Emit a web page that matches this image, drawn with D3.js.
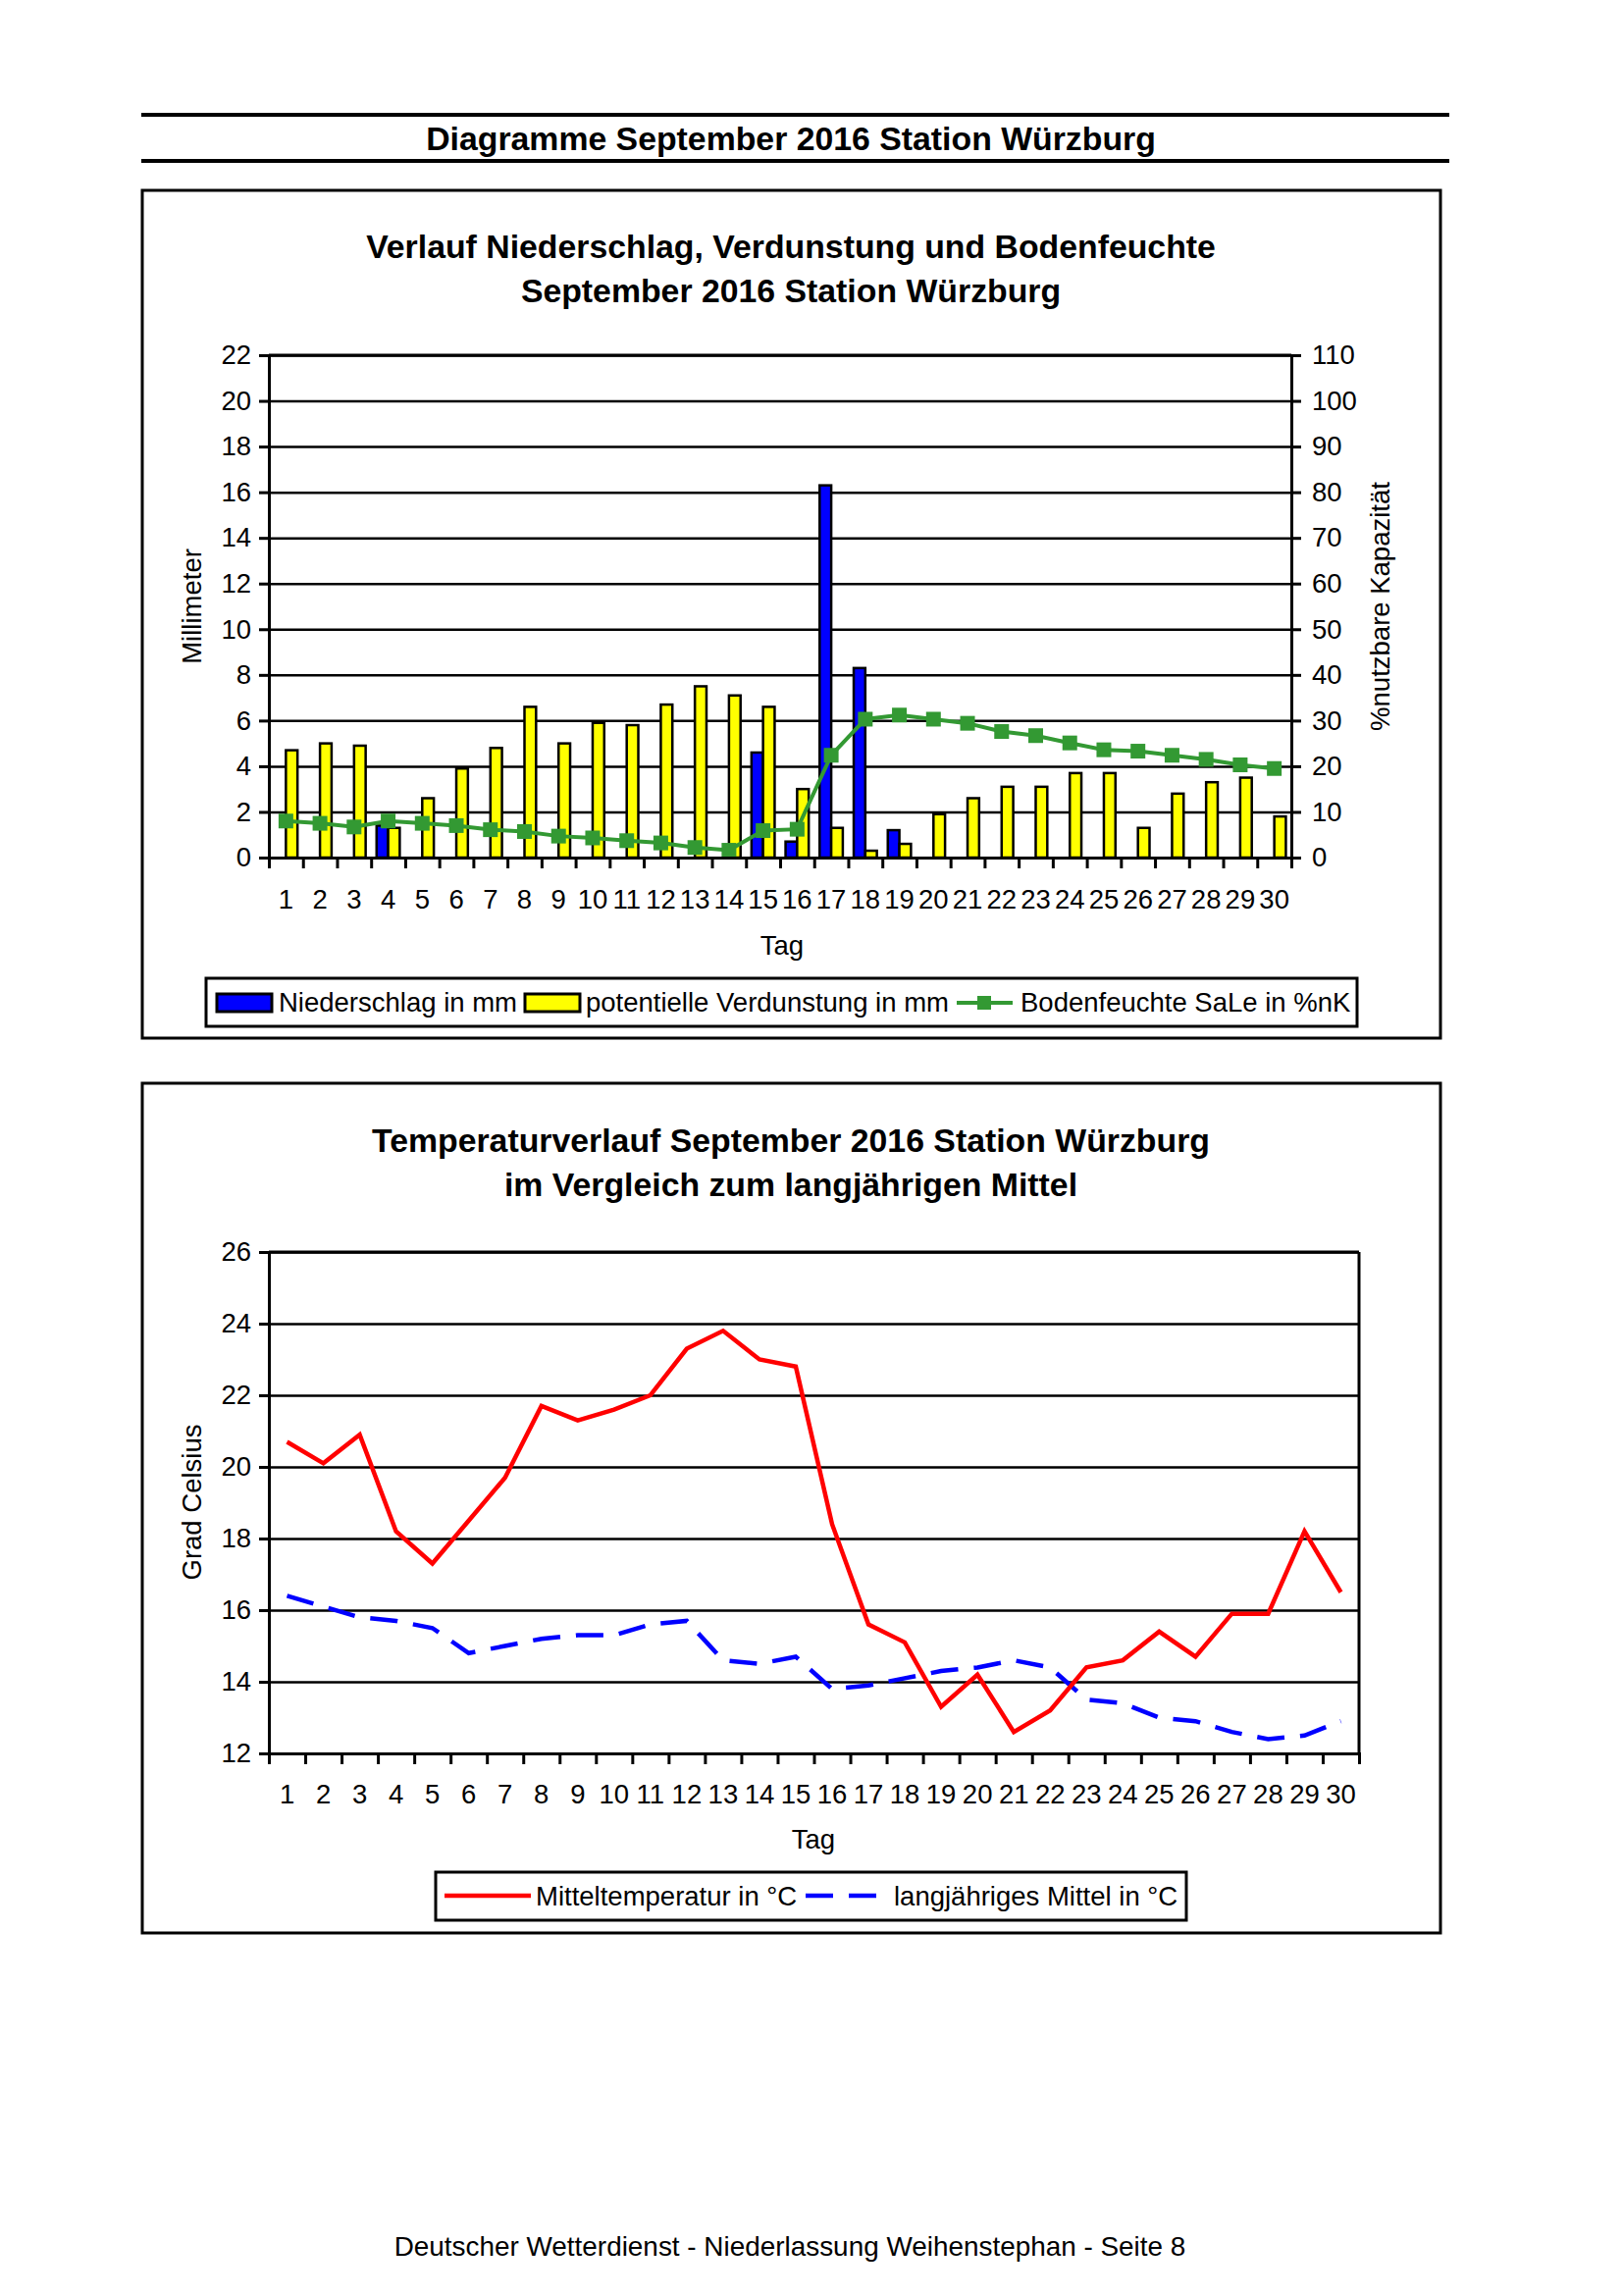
<!DOCTYPE html>
<html><head><meta charset="utf-8">
<script src="https://cdn.jsdelivr.net/npm/d3@7"></script>
<style>
body{margin:0;background:#fff;}
text{font-family:"Liberation Sans",Arial,sans-serif;fill:#000;}
</style></head>
<body>
<script>
// ---------- data ----------
const days = d3.range(1, 31);
const niederschlag = [0,0,0,1.4,0,0,0,0,0,0,0,0,0,0,4.6,0.7,16.3,8.3,1.2,0,0,0,0,0,0,0,0,0,0,0];
const verdunstung = [4.7,5.0,4.9,1.3,2.6,3.9,4.8,6.6,5.0,5.9,5.8,6.7,7.5,7.1,6.6,3.0,1.3,0.3,0.6,1.9,2.6,3.1,3.1,3.7,3.7,1.3,2.8,3.3,3.5,1.8];
const bodenfeuchte = [8.0,7.5,6.7,8.0,7.5,7.0,6.1,5.7,4.7,4.3,3.7,3.2,2.2,1.6,5.9,6.2,22.4,30.3,31.2,30.3,29.4,27.6,26.7,25.1,23.6,23.3,22.4,21.5,20.3,19.5];
const mitteltemp = [20.7,20.1,20.9,18.2,17.3,18.5,19.7,21.7,21.3,21.6,22.0,23.3,23.8,23.0,22.8,18.4,15.6,15.1,13.3,14.2,12.6,13.2,14.4,14.6,15.4,14.7,15.9,15.9,18.2,16.5];
const langMittel = [16.4,16.1,15.8,15.7,15.5,14.8,15.0,15.2,15.3,15.3,15.6,15.7,14.6,14.5,14.7,13.8,13.9,14.1,14.3,14.4,14.6,14.4,13.5,13.4,13.0,12.9,12.6,12.4,12.5,12.9];
const mmTicks = d3.range(0, 23, 2);
const pctTicks = d3.range(0, 111, 10);
const tempTicks = d3.range(12, 27, 2);

const W = 1653, H = 2340;
const FS = 27.5;
const TFS = 33.8;
const svg = d3.select("body").append("svg").attr("width", W).attr("height", H);
svg.append("rect").attr("width", W).attr("height", H).attr("fill", "#fff");

// page header
svg.append("line").attr("x1",144).attr("x2",1477).attr("y1",117).attr("y2",117).attr("stroke","#000").attr("stroke-width",4);
svg.append("line").attr("x1",144).attr("x2",1477).attr("y1",164).attr("y2",164).attr("stroke","#000").attr("stroke-width",4);
svg.append("text").attr("x",806).attr("y",153).attr("text-anchor","middle").attr("font-size",TFS).attr("font-weight","bold")
  .text("Diagramme September 2016 Station Würzburg");

// footer
svg.append("text").attr("x",805).attr("y",2299).attr("text-anchor","middle").attr("font-size",27.9)
  .text("Deutscher Wetterdienst - Niederlassung Weihenstephan - Seite 8");

function styleAxis(g){
  g.selectAll("path.domain").attr("stroke","#000").attr("stroke-width",3);
  g.selectAll(".tick line").attr("stroke","#000").attr("stroke-width",3);
  g.selectAll("text").attr("font-size",FS).attr("font-family","'Liberation Sans',Arial,sans-serif").attr("fill","#000");
}

// ================= Chart 1 =================
{
  svg.append("rect").attr("x",145).attr("y",194).attr("width",1323).attr("height",864)
    .attr("fill","none").attr("stroke","#000").attr("stroke-width",3);
  svg.append("text").attr("x",806).attr("y",263).attr("text-anchor","middle").attr("font-size",TFS).attr("font-weight","bold")
    .text("Verlauf Niederschlag, Verdunstung und Bodenfeuchte");
  svg.append("text").attr("x",806).attr("y",308).attr("text-anchor","middle").attr("font-size",TFS).attr("font-weight","bold")
    .text("September 2016 Station Würzburg");

  const L = 274, R = 1316, T = 362, B = 874;
  const x = d3.scaleBand().domain(days).range([L, R]);
  const xb = d3.scaleLinear().domain([0, 30]).range([L, R]);
  const y = d3.scaleLinear().domain([0, 22]).range([B, T]);
  const yr = d3.scaleLinear().domain([0, 110]).range([B, T]);

  // grid
  const grid = svg.append("g").attr("transform",`translate(${L},0)`)
    .call(d3.axisLeft(y).tickValues(mmTicks).tickSize(-(R-L)).tickFormat(""));
  grid.select("path.domain").remove();
  grid.selectAll(".tick line").attr("stroke","#000").attr("stroke-width",2.5);

  // bars
  const bw = x.bandwidth() * 0.34;
  svg.append("g").selectAll("rect").data(days).join("rect")
    .attr("x", d => x(d) + x.bandwidth()/2 - bw)
    .attr("y", (d,i) => y(niederschlag[i]))
    .attr("width", bw)
    .attr("height", (d,i) => B - y(niederschlag[i]))
    .attr("fill","#0000ff").attr("stroke","#000").attr("stroke-width",2.5)
    .attr("display",(d,i)=> niederschlag[i] > 0 ? null : "none");
  svg.append("g").selectAll("rect").data(days).join("rect")
    .attr("x", d => x(d) + x.bandwidth()/2)
    .attr("y", (d,i) => y(verdunstung[i]))
    .attr("width", bw)
    .attr("height", (d,i) => B - y(verdunstung[i]))
    .attr("fill","#ffff00").attr("stroke","#000").attr("stroke-width",2.5);

  // Bodenfeuchte line
  const line = d3.line().x((d,i) => x(days[i]) + x.bandwidth()/2).y(d => yr(d));
  svg.append("path").datum(bodenfeuchte).attr("d", line).attr("fill","none")
    .attr("stroke","#339933").attr("stroke-width",4);
  const ms = 15;
  svg.append("g").selectAll("rect").data(bodenfeuchte).join("rect")
    .attr("x",(d,i)=> x(days[i]) + x.bandwidth()/2 - ms/2)
    .attr("y", d => yr(d) - ms/2).attr("width",ms).attr("height",ms).attr("fill","#339933");

  // axes
  styleAxis(svg.append("g").attr("transform",`translate(${L},0)`)
    .call(d3.axisLeft(y).tickValues(mmTicks).tickSize(10).tickPadding(8)));
  styleAxis(svg.append("g").attr("transform",`translate(${R},0)`)
    .call(d3.axisRight(yr).tickValues(pctTicks).tickSize(10).tickPadding(11)));
  svg.append("line").attr("x1",L).attr("x2",R).attr("y1",T).attr("y2",T).attr("stroke","#000").attr("stroke-width",3);
  const xa = svg.append("g").attr("transform",`translate(0,${B})`)
    .call(d3.axisBottom(xb).tickValues(d3.range(0,31)).tickSize(11).tickFormat(""));
  styleAxis(xa);
  const xl = svg.append("g").attr("transform",`translate(0,${B})`)
    .call(d3.axisBottom(x).tickSize(0).tickPadding(32));
  xl.select("path.domain").remove();
  styleAxis(xl);

  svg.append("text").attr("x",797).attr("y",973).attr("text-anchor","middle").attr("font-size",FS).text("Tag");
  svg.append("text").attr("transform","translate(205,618) rotate(-90)").attr("text-anchor","middle").attr("font-size",FS).text("Millimeter");
  svg.append("text").attr("transform","translate(1416,618) rotate(-90)").attr("text-anchor","middle").attr("font-size",FS).text("%nutzbare Kapazität");

  // legend
  const lg = svg.append("g");
  lg.append("rect").attr("x",210).attr("y",997).attr("width",1173).attr("height",49)
    .attr("fill","#fff").attr("stroke","#000").attr("stroke-width",3);
  lg.append("rect").attr("x",221).attr("y",1013).attr("width",56).attr("height",18).attr("fill","#0000ff").attr("stroke","#000").attr("stroke-width",3);
  lg.append("text").attr("x",284).attr("y",1031).attr("font-size",FS).text("Niederschlag in mm");
  lg.append("rect").attr("x",535).attr("y",1013).attr("width",56).attr("height",18).attr("fill","#ffff00").attr("stroke","#000").attr("stroke-width",3);
  lg.append("text").attr("x",597).attr("y",1031).attr("font-size",FS).text("potentielle Verdunstung in mm");
  lg.append("line").attr("x1",975).attr("x2",1032).attr("y1",1022).attr("y2",1022).attr("stroke","#339933").attr("stroke-width",4);
  lg.append("rect").attr("x",996).attr("y",1015).attr("width",14).attr("height",14).attr("fill","#339933");
  lg.append("text").attr("x",1040).attr("y",1031).attr("font-size",FS).text("Bodenfeuchte SaLe in %nK");
}

// ================= Chart 2 =================
{
  svg.append("rect").attr("x",145).attr("y",1104).attr("width",1323).attr("height",866)
    .attr("fill","none").attr("stroke","#000").attr("stroke-width",3);
  svg.append("text").attr("x",806).attr("y",1174).attr("text-anchor","middle").attr("font-size",TFS).attr("font-weight","bold")
    .text("Temperaturverlauf September 2016 Station Würzburg");
  svg.append("text").attr("x",806).attr("y",1219).attr("text-anchor","middle").attr("font-size",TFS).attr("font-weight","bold")
    .text("im Vergleich zum langjährigen Mittel");

  const L = 274, R = 1385, T = 1276, B = 1787;
  const x = d3.scaleBand().domain(days).range([L, R]);
  const xb = d3.scaleLinear().domain([0, 30]).range([L, R]);
  const y = d3.scaleLinear().domain([12, 26]).range([B, T]);

  const grid = svg.append("g").attr("transform",`translate(${L},0)`)
    .call(d3.axisLeft(y).tickValues(tempTicks).tickSize(-(R-L)).tickFormat(""));
  grid.select("path.domain").remove();
  grid.selectAll(".tick line").attr("stroke","#000").attr("stroke-width",2.5);

  const line = d3.line().x((d,i) => x(days[i]) + x.bandwidth()/2).y(d => y(d));
  svg.append("path").datum(langMittel).attr("d", line).attr("fill","none")
    .attr("stroke","#0000ff").attr("stroke-width",4.5).attr("stroke-dasharray","28,16");
  svg.append("path").datum(mitteltemp).attr("d", line).attr("fill","none")
    .attr("stroke","#ff0000").attr("stroke-width",4.5).attr("stroke-linejoin","miter");

  styleAxis(svg.append("g").attr("transform",`translate(${L},0)`)
    .call(d3.axisLeft(y).tickValues(tempTicks).tickSize(10).tickPadding(8)));
  svg.append("line").attr("x1",L).attr("x2",R).attr("y1",T).attr("y2",T).attr("stroke","#000").attr("stroke-width",3);
  svg.append("line").attr("x1",R).attr("x2",R).attr("y1",T).attr("y2",B).attr("stroke","#000").attr("stroke-width",3);
  const xa = svg.append("g").attr("transform",`translate(0,${B})`)
    .call(d3.axisBottom(xb).tickValues(d3.range(0,31)).tickSize(11).tickFormat(""));
  styleAxis(xa);
  const xl = svg.append("g").attr("transform",`translate(0,${B})`)
    .call(d3.axisBottom(x).tickSize(0).tickPadding(31));
  xl.select("path.domain").remove();
  styleAxis(xl);

  svg.append("text").attr("x",829).attr("y",1884).attr("text-anchor","middle").attr("font-size",FS).text("Tag");
  svg.append("text").attr("transform","translate(205,1531) rotate(-90)").attr("text-anchor","middle").attr("font-size",FS).text("Grad Celsius");

  const lg = svg.append("g");
  lg.append("rect").attr("x",444).attr("y",1908).attr("width",765).attr("height",49)
    .attr("fill","#fff").attr("stroke","#000").attr("stroke-width",3);
  lg.append("line").attr("x1",453).attr("x2",541).attr("y1",1932).attr("y2",1932).attr("stroke","#ff0000").attr("stroke-width",4.5);
  lg.append("text").attr("x",546).attr("y",1942).attr("font-size",FS).text("Mitteltemperatur in °C");
  lg.append("line").attr("x1",821).attr("x2",895).attr("y1",1932).attr("y2",1932).attr("stroke","#0000ff").attr("stroke-width",4.5).attr("stroke-dasharray","28,16");
  lg.append("text").attr("x",911).attr("y",1942).attr("font-size",FS).text("langjähriges Mittel in °C");
}
</script>
</body></html>
